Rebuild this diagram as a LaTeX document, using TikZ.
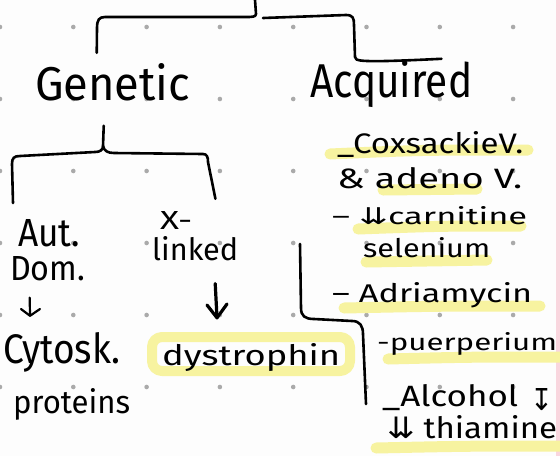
\documentclass[tikz,border=0pt]{standalone}
\usepackage{fontspec}
\setmainfont{Fira Sans}
\newfontfamily\sym{DejaVu Sans}
\usetikzlibrary{calc}
\definecolor{paper}{RGB}{253,253,253}
\definecolor{dotc}{RGB}{170,170,170}
\definecolor{hlc}{RGB}{247,243,160}
\definecolor{edge}{RGB}{249,214,222}
\newcommand\fitbox[3]{\resizebox{#1pt}{#2pt}{#3}}
\begin{document}
\begin{tikzpicture}[x=1pt,y=-1pt,
  ink/.style={line width=2.6pt, line cap=round, line join=round, black},
  hl/.style={line width=11pt, line cap=round, hlc},
  hw/.style={inner sep=0pt, anchor=base west, text=black}]
\fill[paper] (0,0) rectangle (560,456);
\useasboundingbox (0,0) rectangle (560,456);
\fill[edge] (556,0) rectangle (560,456);
% dot grid
\foreach \i in {0,...,7} \foreach \j in {0,...,5}
  \fill[dotc] (\i*73.3,27+\j*72) circle (2.3);
% highlights
\draw[hl] (330,154) .. controls (420,150) .. (528,150);
\draw[hl] (383,190) -- (477,189);
\draw[hl] (358,229) .. controls (440,226) .. (521,226);
\draw[hl] (366,262) -- (487,260);
\draw[hl] (344,308) .. controls (440,306) .. (540,306);
\draw[hl] (388,359) .. controls (470,357) .. (560,357);
\draw[hl] (376,448) .. controls (470,446) .. (560,446);
\draw[hlc, line width=10pt, rounded corners=10pt, line join=round] (152,337) rectangle (350,371);
% texts
\node[hw] (gen) at (35,100) {\fitbox{155}{37}{Genetic}};
\node[hw] (acq) at (310,97) {\fitbox{162}{37}{Acquired}};
\node[hw] (aut) at (18,246) {\fitbox{62}{27}{Aut.}};
\node[hw] (dom) at (10,280) {\fitbox{75}{24}{Dom.}};
\node[hw] (xl) at (160,229) {\fitbox{32}{18}{X-}};
\node[hw] (lnk) at (152,260) {\fitbox{86}{24}{linked}};
\node[hw] (cyt) at (3,363) {\fitbox{117}{31}{Cytosk.}};
\node[hw] (pro) at (13,413) {\fitbox{117}{25}{proteins}};
\node[hw] (dys) at (162,365) {\fitbox{178}{22}{dystrophin}};
\node[hw] (cox) at (337,153) {\fitbox{186}{22}{\_CoxsackieV.}};
\node[hw] (ade) at (337,188) {\fitbox{185}{21}{\& adeno V.}};
\node[hw] (car) at (332,224) {\fitbox{195}{18}{– {\sym ⇊}carnitine}};
\node[hw] (sel) at (363,257) {\fitbox{127}{20}{selenium}};
\node[hw] (adr) at (332,302) {\fitbox{200}{20}{– Adriamycin}};
\node[hw] (pue) at (377,350) {\fitbox{180}{18}{-puerperium}};
\node[hw] (alc) at (382,406) {\fitbox{136}{22}{\_Alcohol}};
\node[hw] (alcarr) at (530,410) {\fitbox{23}{22}{{\sym ↧}}};
\node[hw] (thi) at (387,438) {\fitbox{170}{23}{{\sym ⇊} thiamine}};
% top bracket
\coordinate (t0) at (255,0);
\draw[ink] (t0) -- (256,14) .. controls (256,17) and (252,17) .. (245,17)
  -- (105,17) .. controls (99,17) and (97,20) .. (97,28) -- ([shift={(-16,-10)}]gen.north);
\draw[ink] (263,18) -- (346,15) .. controls (353,15) and (354,18) .. (354,25)
  -- (355,57) .. controls (355,61) and (357,63) .. ([shift={(-31,-1)}]acq.north east);
% genetic bracket
\draw[ink] ([shift={(-9,25)}]gen.south) -- (103,146) .. controls (103,150) and (100,152) .. (95,152)
  -- (20,156) .. controls (14,156) and (12,158) .. (12,164) -- (13,203);
\draw[ink] (103,146) .. controls (104,151) and (108,153) .. (114,153)
  -- (203,154) .. controls (207,154) and (208,157) .. (208,162) -- ([shift={(-23,-37)}]lnk.north east);
% arrows
\coordinate (a1) at ([shift={(-18,17)}]dom.south);
\coordinate (a2) at ([shift={(27,-16)}]cyt.north west);
\draw[ink, line width=2.2pt] (a1) -- (a2);
\draw[ink, line width=2.2pt] (21,309) -- (a2) -- (40,309);
\coordinate (b1) at ([shift={(20,23)}]lnk.south);
\coordinate (b2) at ([shift={(55,-25)}]dys.north west);
\draw[ink, line width=3.2pt] (b1) -- (b2);
\draw[ink, line width=3.2pt] (207,305) -- (b2) -- (227,304);
% acquired side bracket
\coordinate (r0) at (300,244);
\draw[ink] (r0) -- (301,308) .. controls (301,316) and (305,319) .. (314,319)
  -- (352,321) .. controls (360,321) and (363,326) .. (363,334) -- (366,404);
\end{tikzpicture}
\end{document}
